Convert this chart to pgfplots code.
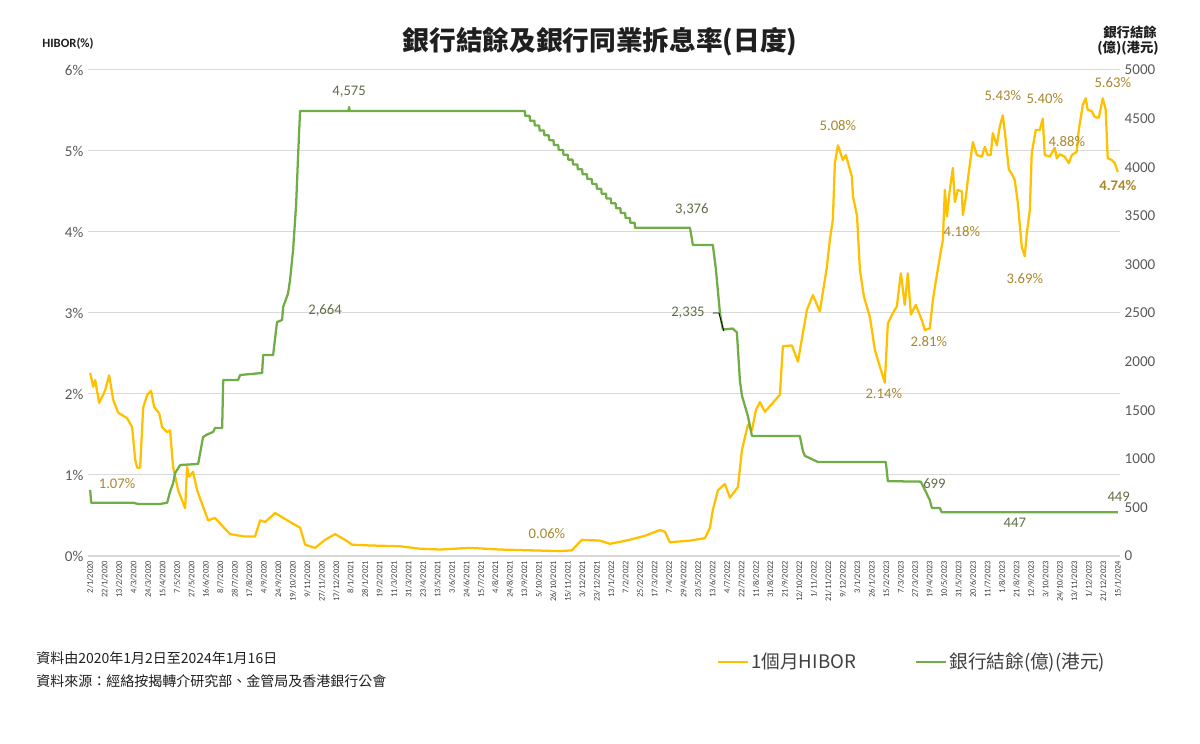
\documentclass[border=0pt]{standalone}
\usepackage{fontspec}
\setmainfont{Carlito}
\newfontfamily\cjk{Noto Sans CJK TC}
\usepackage{pgfplots}
\pgfplotsset{compat=1.18}
\definecolor{hib}{HTML}{FFC000}
\definecolor{bal}{HTML}{70AD47}
\definecolor{gridc}{HTML}{D9D9D9}
\definecolor{tickc}{HTML}{595959}
\definecolor{datec}{HTML}{404040}
\definecolor{hlab}{HTML}{A8862B}
\definecolor{glab}{HTML}{5F6E45}
\definecolor{titc}{HTML}{1F1F1F}

\pgfplotstableread{
x y
0 2.26
0.21 2.09
0.35 2.17
0.62 1.89
0.90 1.99
1.04 2.05
1.31 2.23
1.59 1.93
1.93 1.77
2.56 1.70
2.90 1.59
3.11 1.19
3.25 1.09
3.45 1.09
3.66 1.83
3.94 1.99
4.21 2.04
4.42 1.84
4.77 1.76
4.97 1.59
5.32 1.53
5.52 1.55
5.73 1.10
6.08 0.81
6.56 0.59
6.70 1.10
6.84 0.98
7.11 1.04
7.39 0.81
7.80 0.61
8.15 0.44
8.63 0.47
9.19 0.36
9.67 0.27
10.70 0.24
11.39 0.24
11.74 0.44
12.09 0.42
12.78 0.53
13.81 0.42
14.50 0.35
14.85 0.14
15.54 0.10
16.23 0.20
16.92 0.27
17.61 0.20
18.09 0.14
19.34 0.13
21.41 0.12
22.79 0.09
24.17 0.08
26.24 0.10
28.31 0.08
30.39 0.07
32.46 0.06
33.29 0.07
33.70 0.15
33.98 0.20
35.22 0.19
35.91 0.15
37.29 0.20
38.33 0.25
39.36 0.32
39.71 0.30
40.05 0.17
41.44 0.19
42.47 0.22
42.82 0.35
43.02 0.57
43.37 0.81
43.85 0.89
44.20 0.72
44.75 0.85
45.03 1.31
45.44 1.62
45.72 1.55
45.99 1.80
46.27 1.90
46.62 1.78
46.96 1.85
47.65 1.99
47.86 2.59
48.48 2.60
48.90 2.40
49.52 3.04
49.93 3.22
50.41 3.02
50.90 3.57
51.10 3.90
51.31 4.15
51.45 4.85
51.66 5.07
52.00 4.89
52.21 4.95
52.63 4.68
52.70 4.44
52.98 4.20
53.18 3.53
53.46 3.20
53.87 2.95
54.21 2.55
54.42 2.42
54.90 2.14
55.11 2.87
55.46 3.00
55.73 3.08
56.01 3.49
56.28 3.10
56.49 3.49
56.70 2.98
57.04 3.10
57.46 2.91
57.67 2.79
58.01 2.81
58.22 3.16
58.36 3.32
58.70 3.69
58.91 3.90
59.05 4.52
59.19 4.19
59.39 4.52
59.60 4.79
59.74 4.37
59.94 4.52
60.22 4.50
60.29 4.21
60.50 4.43
60.63 4.64
60.98 5.11
61.26 4.95
61.60 4.93
61.81 5.05
62.01 4.95
62.22 4.95
62.36 5.22
62.64 5.07
62.84 5.30
63.05 5.44
63.19 5.24
63.47 4.77
63.67 4.72
63.88 4.64
64.09 4.36
64.36 3.82
64.57 3.70
64.71 3.99
64.92 4.27
65.05 4.97
65.33 5.26
65.61 5.26
65.81 5.40
65.95 4.95
66.30 4.93
66.64 5.04
66.78 4.91
66.99 4.96
67.33 4.93
67.61 4.85
67.82 4.95
68.16 4.99
68.30 5.26
68.58 5.57
68.78 5.65
68.92 5.51
69.20 5.49
69.40 5.42
69.68 5.41
69.96 5.65
70.16 5.51
70.30 4.91
70.58 4.89
70.79 4.85
71.00 4.74
}\hibordata

\pgfplotstableread{
x y
0 679
0.07 548
2.97 548
3.31 535
4.83 535
5.32 548
5.52 662
5.73 750
5.87 854
6.22 936
7.46 947
7.80 1224
8.08 1250
8.49 1276
8.63 1317
9.12 1317
9.19 1811
10.22 1811
10.36 1862
11.88 1883
11.95 2068
12.64 2068
12.91 2407
13.26 2428
13.33 2560
13.67 2700
13.81 2840
14.02 3150
14.23 3620
14.36 4100
14.50 4578
17.85 4578
17.89 4620
17.93 4578
29.70 4578
30.03 4578
30.06 4528
30.36 4528
30.39 4478
30.69 4478
30.72 4428
31.02 4428
31.05 4378
31.35 4378
31.38 4328
31.68 4328
31.71 4278
32.01 4278
32.04 4228
32.34 4228
32.37 4178
32.67 4178
32.70 4128
33.00 4128
33.03 4078
33.33 4078
33.36 4028
33.66 4028
33.69 3978
33.99 3978
34.02 3928
34.32 3928
34.35 3878
34.65 3878
34.68 3828
34.98 3828
35.01 3778
35.31 3778
35.34 3728
35.64 3728
35.67 3678
35.97 3678
36.00 3628
36.30 3628
36.33 3578
36.63 3578
36.66 3528
36.96 3528
36.99 3478
37.29 3478
37.32 3428
37.62 3428
37.64 3376
41.44 3376
41.64 3200
43.02 3200
43.23 2950
43.51 2500
43.71 2330
44.40 2340
44.68 2300
44.89 1800
45.03 1650
45.44 1440
45.72 1235
49.03 1235
49.24 1080
49.38 1030
50.28 967
54.97 967
55.11 770
57.39 765
57.67 680
58.01 575
58.15 495
58.70 494
58.84 450
71.00 450
}\baldata

\begin{document}
\begin{tikzpicture}
\useasboundingbox (0pt,0pt) rectangle (900pt,557.25pt);

% titles and notes
\node[font=\cjk\bfseries\fontsize{20}{22}\selectfont, text=titc] at (450pt,525.75pt) {銀行結餘及銀行同業拆息率(日度)};
\node[font=\bfseries\fontsize{9.5}{11}\selectfont, text=titc] at (51pt,524.25pt) {HIBOR(\%)};
\node[font=\cjk\bfseries\fontsize{10}{11}\selectfont, text=titc] at (847.5pt,532.9pt) {銀行結餘};
\node[font=\cjk\bfseries\fontsize{10}{11}\selectfont, text=titc] at (846pt,521.25pt) {(億)(港元)};
\node[font=\cjk\fontsize{10.5}{12}\selectfont, text=titc, anchor=west, inner sep=0pt] at (27pt,63.75pt) {資料由2020年1月2日至2024年1月16日};
\node[font=\cjk\fontsize{10.5}{12}\selectfont, text=titc, anchor=west, inner sep=0pt] at (27pt,46pt) {資料來源：經絡按揭轉介研究部、金管局及香港銀行公會};

\begin{axis}[
  at={(66pt,140.25pt)}, anchor=south west,
  scale only axis, width=774pt, height=364.5pt,
  xmin=-0.15, xmax=71.15, ymin=0, ymax=6,
  axis x line*=bottom, axis y line*=left,
  x axis line style={gridc, line width=2.2pt, -},
  y axis line style={draw=none},
  major tick length=0pt,
  xtick={0,...,71},
  xticklabels={2/1/2020,22/1/2020,13/2/2020,4/3/2020,24/3/2020,15/4/2020,7/5/2020,27/5/2020,16/6/2020,8/7/2020,28/7/2020,17/8/2020,4/9/2020,24/9/2020,19/10/2020,9/11/2020,27/11/2020,17/12/2020,8/1/2021,28/1/2021,19/2/2021,11/3/2021,31/3/2021,23/4/2021,13/5/2021,3/6/2021,24/6/2021,15/7/2021,4/8/2021,24/8/2021,13/9/2021,5/10/2021,26/10/2021,15/11/2021,3/12/2021,23/12/2021,13/1/2022,7/2/2022,25/2/2022,17/3/2022,7/4/2022,29/4/2022,23/5/2022,13/6/2022,4/7/2022,22/7/2022,11/8/2022,31/8/2022,21/9/2022,12/10/2022,1/11/2022,21/11/2022,9/12/2022,3/1/2023,26/1/2023,15/2/2023,7/3/2023,27/3/2023,19/4/2023,10/5/2023,31/5/2023,20/6/2023,11/7/2023,1/8/2023,21/8/2023,12/9/2023,3/10/2023,24/10/2023,13/11/2023,1/12/2023,21/12/2023,15/1/2024},
  xticklabel style={rotate=90, anchor=east, font=\fontsize{6.4}{6.4}\selectfont, text=datec},
  ytick={0,1,2,3,4,5,6},
  yticklabel={\pgfmathprintnumber{\tick}\%},
  yticklabel style={font=\fontsize{11.3}{12}\selectfont, text=tickc},
  ymajorgrids, grid style={gridc, line width=0.75pt},
  clip=false,
  /pgf/number format/assume math mode=true,
]
\addplot[hib, line width=1.7pt, line join=round] table[x=x,y=y] {\hibordata};
\tikzset{ylab/.style={font=\fontsize{11}{12}\selectfont, text=hlab}}
\node[ylab] at (axis cs:1.86,0.89) {1.07\%};
\node[ylab] at (axis cs:31.56,0.28) {0.06\%};
\node[ylab] at (axis cs:51.66,5.32) {5.08\%};
\node[ylab] at (axis cs:54.83,2.01) {2.14\%};
\node[ylab] at (axis cs:57.94,2.65) {2.81\%};
\node[ylab] at (axis cs:60.22,4.01) {4.18\%};
\node[ylab] at (axis cs:63.05,5.68) {5.43\%};
\node[ylab] at (axis cs:65.95,5.65) {5.40\%};
\node[ylab] at (axis cs:67.47,5.12) {4.88\%};
\node[ylab] at (axis cs:64.57,3.42) {3.69\%};
\node[ylab] at (axis cs:70.65,5.85) {5.63\%};
\node[ylab, font=\bfseries\fontsize{11}{12}\selectfont] at (axis cs:71.0,4.57) {4.74\%};
\end{axis}

\begin{axis}[
  at={(66pt,140.25pt)}, anchor=south west,
  scale only axis, width=774pt, height=364.5pt,
  xmin=-0.15, xmax=71.15, ymin=0, ymax=5000,
  axis x line=none, axis y line*=right,
  y axis line style={draw=none},
  major tick length=0pt,
  ytick={0,500,...,5000},
  yticklabel style={font=\fontsize{11.3}{12}\selectfont, text=tickc},
  /pgf/number format/.cd, 1000 sep={}, assume math mode=true, /pgfplots/.cd,
  clip=false,
  legend style={at={(0.605,-0.2175)}, anchor=west, draw=none, fill=none,
    font=\cjk\fontsize{14}{16}\selectfont, text=datec,
    legend columns=2,
    /tikz/every even column/.append style={column sep=42pt}},
  legend image code/.code={\draw[#1, line width=1.5pt] (0pt,0pt) -- (22.5pt,0pt);},
]
\addlegendimage{hib}
\addlegendentry{1個月HIBOR}
\addplot[bal, line width=1.7pt, line join=round] table[x=x,y=y] {\baldata};
\addlegendentry{銀行結餘(億)(港元)}
\tikzset{glab/.style={font=\fontsize{11}{12}\selectfont, text=glab}}
\node[glab] at (axis cs:17.89,4774) {4,575};
\node[glab] at (axis cs:16.23,2521) {2,664};
\node[glab] at (axis cs:41.57,3570) {3,376};
\node[glab] at (axis cs:41.30,2500) {2,335};
\draw[black, line width=0.6pt] (axis cs:43.02,2500) -- (axis cs:43.44,2500) -- (axis cs:43.78,2315);
\node[glab] at (axis cs:58.33,748) {699};
\node[glab] at (axis cs:63.88,343) {447};
\node[glab] at (axis cs:71.06,610) {449};
\end{axis}
\end{tikzpicture}
\end{document}
